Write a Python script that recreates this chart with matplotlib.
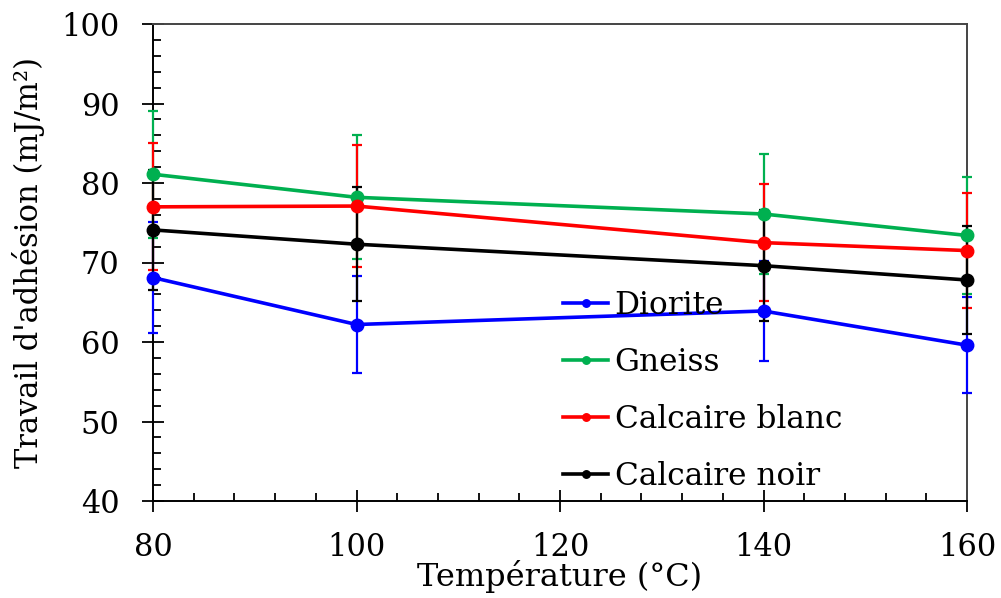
import matplotlib.pyplot as plt
from matplotlib.ticker import MultipleLocator

plt.rcParams['font.family'] = ['DejaVu Serif']

temperature = [80, 100, 140, 160]

diorite = [68.1, 62.2, 63.9, 59.6]
diorite_err = [7.0, 6.1, 6.3, 6.0]
gneiss = [81.1, 78.2, 76.1, 73.4]
gneiss_err = [8.0, 7.8, 7.6, 7.3]
calc_blanc = [77.0, 77.1, 72.5, 71.5]
calc_blanc_err = [8.0, 7.7, 7.4, 7.2]
calc_noir = [74.1, 72.3, 69.6, 67.8]
calc_noir_err = [7.5, 7.2, 7.0, 6.8]

series = [
    ("Diorite", diorite, diorite_err, "#0000FF"),
    ("Gneiss", gneiss, gneiss_err, "#00B050"),
    ("Calcaire blanc", calc_blanc, calc_blanc_err, "#FF0000"),
    ("Calcaire noir", calc_noir, calc_noir_err, "#000000"),
]

fig = plt.figure(figsize=(10.01, 5.98), dpi=100)
ax = fig.add_axes([153 / 1001, 1 - 501 / 598, (967 - 153) / 1001, (501 - 24) / 598])

for nom, val, err, col in series:
    ax.errorbar(temperature, val, yerr=err, color=col, lw=2.6, marker='o', ms=9,
                elinewidth=1.6, capsize=3.5, capthick=1.6, label=nom, clip_on=False, zorder=3)

ax.set_xlim(80, 160)
ax.set_ylim(40, 100)
ax.xaxis.set_major_locator(MultipleLocator(20))
ax.xaxis.set_minor_locator(MultipleLocator(4))
ax.yaxis.set_major_locator(MultipleLocator(10))
ax.yaxis.set_minor_locator(MultipleLocator(2))

ax.tick_params(which='major', direction='inout', length=16, width=1.3, labelsize=22)
ax.tick_params(which='minor', direction='in', length=6, width=1.3)
ax.tick_params(axis='x', which='major', pad=14)
ax.tick_params(axis='y', which='major', pad=16)

for s in ['left', 'bottom']:
    ax.spines[s].set_linewidth(1.4)
for s in ['top', 'right']:
    ax.spines[s].set_color('#444444')
    ax.spines[s].set_linewidth(1.4)

ax.set_xlabel('Température (°C)', fontsize=23, labelpad=-2)
ax.set_ylabel("Travail d'adhésion (mJ/m²)", fontsize=22, labelpad=12)

handles, labels = ax.get_legend_handles_labels()
handles = [h[0] for h in handles]
leg = fig.legend(handles, labels, loc='upper left', bbox_to_anchor=(563 / 1001, 1 - 290 / 598),
                 frameon=False, fontsize=22.5, borderpad=0, borderaxespad=0,
                 handlelength=1.45, handletextpad=0.2, labelspacing=0.83, markerscale=0.6)

fig.savefig('out.png', dpi=100)
